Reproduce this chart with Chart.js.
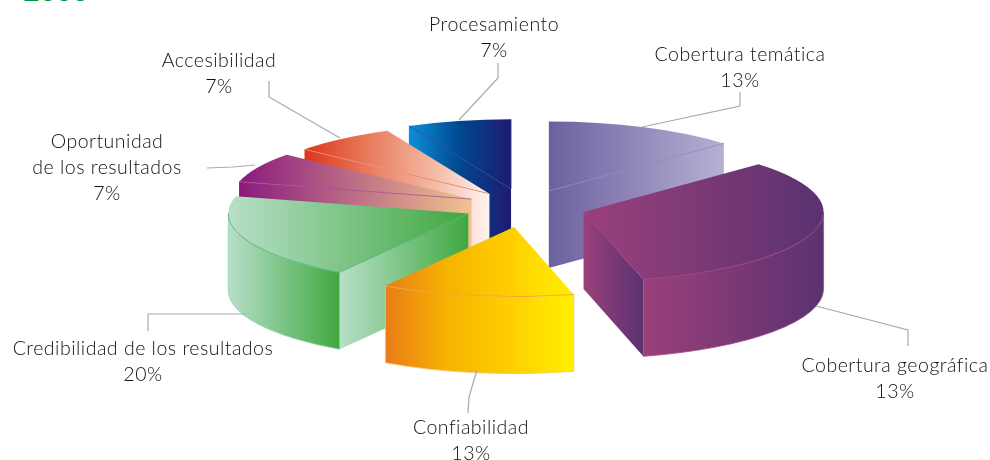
<!DOCTYPE html>
<html lang="es">
<head>
<meta charset="utf-8">
<title>Dimensiones de calidad</title>
<script src="https://cdn.jsdelivr.net/npm/chart.js@4"></script>
<style>
    html, body { margin: 0; padding: 0; background: #fff; }
    canvas { display: block; }
</style>
</head>
<body>
<canvas id="pieChart" width="990" height="460"></canvas>
<script>
const categories = [
    "Cobertura temática",
    "Cobertura geográfica",
    "Confiabilidad",
    "Credibilidad de los resultados",
    "Oportunidad de los resultados",
    "Accesibilidad",
    "Procesamiento"
];

// slice sizes as the picture draws them
const shares = [13, 33, 13, 20, 7, 7, 7];

// percentages as the picture prints them
const printedPercents = [13, 13, 13, 20, 7, 7, 7];

const labelLines = [
    ["Cobertura temática"],
    ["Cobertura geográfica"],
    ["Confiabilidad"],
    ["Credibilidad de los resultados"],
    ["Oportunidad", "de los resultados"],
    ["Accesibilidad"],
    ["Procesamiento"]
];

// cut off by the top edge of the picture
const croppedHeading = "2000";

// look of the slices
const sliceOffsets = [60, 61, 70, 61, 60, 58, 64];
const sliceStops = [
    ["#6c609f", "#b7b0d4"],
    ["#9a407b", "#5a3270"],
    ["#e97c18", "#f6b400", "#ffcf00", "#fff000"],
    ["#b8dfc8", "#3fa83f"],
    ["#8a1a7d", "#f0c48f"],
    ["#dc3518", "#e8795a", "#f3b49c", "#fff4f0"],
    ["#0a90dc", "#00488f", "#1f1a72"]
];
const seamColors = ["#8a82bd", "#a54584", "#f0a030", "#4fb585", "#a44f9c", "#f08a70", "#2a3f90"];
const edgeColors = ["#c0bad8", "#a04a88", "#f7c56a", "#8fd0b0", "#b070a8", "#f4b09a", "#5a8fd0"];

const squash = 0.29;
const depth = 77;
const textColor = "#111111";
const leaderColor = "#a9a9a9";

// label anchor (centre x, first baseline) and leader polyline per category
const labelAnchors = [[740, 61], [895, 372], [471, 434], [143, 355], [107, 148], [219, 67], [494, 31]];
const leaders = [
    [[740, 92], [740, 106], [642, 127]],
    [[908, 346], [908, 330], [816, 306]],
    [[468, 413], [469, 397], [477, 370]],
    [[148, 331], [148, 314], [246, 314]],
    [[207, 168], [233, 167], [255, 165]],
    [[269, 81], [269, 97], [340, 138]],
    [[498, 63], [498, 78], [459, 120]]
];

function faceGradient(ctx, x0, x1, stops) {
    const g = ctx.createLinearGradient(x0, 0, x1, 0);
    stops.forEach((c, i) => g.addColorStop(stops.length > 1 ? i / (stops.length - 1) : 0, c));
    return g;
}

// where the slice sits on screen once it is tilted
function sliceGeometry(arc, i) {
    const mid = (arc.startAngle + arc.endAngle) / 2;
    const dx = Math.cos(mid) * sliceOffsets[i];
    const dy = Math.sin(mid) * sliceOffsets[i];
    const ax = arc.x + dx;
    const ay = arc.y + dy * squash;
    const r = arc.outerRadius;
    const rimPoint = a => [ax + Math.cos(a) * r, ay + Math.sin(a) * r * squash];
    return { ax, ay, r, dx, dy, rimPoint, a0: arc.startAngle, a1: arc.endAngle };
}

function wallPath(ctx, g, a) {
    const p = g.rimPoint(a);
    ctx.beginPath();
    ctx.moveTo(g.ax, g.ay);
    ctx.lineTo(p[0], p[1]);
    ctx.lineTo(p[0], p[1] + depth);
    ctx.lineTo(g.ax, g.ay + depth);
    ctx.closePath();
}

function drawSlice(ctx, arc, i) {
    const g = sliceGeometry(arc, i);
    const stops = sliceStops[i];
    const walls = [];
    if (Math.cos(g.a0) < 0) walls.push(g.a0);
    if (Math.cos(g.a1) > 0) walls.push(g.a1);

    walls.forEach(a => {
        const p = g.rimPoint(a);
        wallPath(ctx, g, a);
        ctx.fillStyle = faceGradient(ctx, Math.min(g.ax, p[0]), Math.max(g.ax, p[0]), stops);
        ctx.fill();
    });

    // curved outer wall, front half only
    const from = Math.max(g.a0, 0);
    const to = Math.min(g.a1, Math.PI);
    if (to > from) {
        const pFrom = g.rimPoint(from);
        const pTo = g.rimPoint(to);
        ctx.beginPath();
        ctx.ellipse(g.ax, g.ay, g.r, g.r * squash, 0, from, to);
        ctx.lineTo(pTo[0], pTo[1] + depth);
        ctx.ellipse(g.ax, g.ay + depth, g.r, g.r * squash, 0, to, from, true);
        ctx.closePath();
        ctx.fillStyle = faceGradient(ctx, Math.min(pFrom[0], pTo[0]), Math.max(pFrom[0], pTo[0]), stops);
        ctx.fill();
        ctx.strokeStyle = edgeColors[i];
        ctx.lineWidth = 0.8;
        ctx.stroke();
    }

    // top face goes through the arc element itself, inside a squashed context
    const xs = [g.ax, g.rimPoint(g.a0)[0], g.rimPoint(g.a1)[0]];
    for (let a = -Math.PI; a <= 2 * Math.PI; a += Math.PI) {
        if (a > g.a0 && a < g.a1) xs.push(g.rimPoint(a)[0]);
    }
    const left = Math.min(...xs) - g.dx;
    const right = Math.max(...xs) - g.dx;
    arc.options = Object.assign({}, arc.options, {
        offset: 0,
        backgroundColor: faceGradient(ctx, left, right, stops)
    });
    ctx.save();
    ctx.translate(arc.x, arc.y);
    ctx.scale(1, squash);
    ctx.translate(-arc.x + g.dx, -arc.y + g.dy);
    arc.draw(ctx);
    ctx.restore();

    // seams
    ctx.strokeStyle = seamColors[i];
    ctx.lineWidth = 0.8;
    walls.forEach(a => {
        const p = g.rimPoint(a);
        ctx.beginPath();
        ctx.moveTo(g.ax, g.ay);
        ctx.lineTo(p[0], p[1]);
        ctx.stroke();
    });
    if (to > from) {
        ctx.beginPath();
        ctx.ellipse(g.ax, g.ay, g.r, g.r * squash, 0, from, to);
        ctx.stroke();
    }
}

const pie3d = {
    id: "pie3d",
    beforeDatasetsDraw(chart) {
        const ctx = chart.ctx;
        const arcs = chart.getDatasetMeta(0).data;
        const order = arcs.map((arc, i) => i).sort((a, b) => {
            const ya = Math.sin((arcs[a].startAngle + arcs[a].endAngle) / 2);
            const yb = Math.sin((arcs[b].startAngle + arcs[b].endAngle) / 2);
            return ya - yb;
        });
        order.forEach(i => drawSlice(ctx, arcs[i], i));
        return false;
    },
    afterDraw(chart) {
        const ctx = chart.ctx;
        ctx.save();
        ctx.strokeStyle = leaderColor;
        ctx.lineWidth = 1.2;
        leaders.forEach(points => {
            ctx.beginPath();
            points.forEach((p, k) => (k ? ctx.lineTo(p[0], p[1]) : ctx.moveTo(p[0], p[1])));
            ctx.stroke();
        });
        ctx.textAlign = "center";
        ctx.textBaseline = "alphabetic";
        ctx.fillStyle = "#009a44";
        ctx.font = "bold 28px Lato";
        ctx.fillText(croppedHeading, 56, 1);
        ctx.fillStyle = textColor;
        ctx.font = "300 19.5px Lato";
        ctx.letterSpacing = "0.5px";
        categories.forEach((name, i) => {
            const [x, y] = labelAnchors[i];
            const lines = labelLines[i].concat(printedPercents[i] + "%");
            lines.forEach((line, k) => ctx.fillText(line, x, y + k * 26));
        });
        ctx.restore();
    }
};

new Chart(document.getElementById("pieChart"), {
    type: "pie",
    data: {
        labels: categories,
        datasets: [{
            data: shares,
            backgroundColor: sliceStops.map(s => s[0]),
            borderWidth: 0
        }]
    },
    options: {
        responsive: false,
        animation: false,
        radius: 240,
        layout: { padding: { left: 60, bottom: 46 } },
        plugins: {
            legend: { display: false },
            tooltip: { enabled: false }
        }
    },
    plugins: [pie3d]
});
</script>
</body>
</html>
